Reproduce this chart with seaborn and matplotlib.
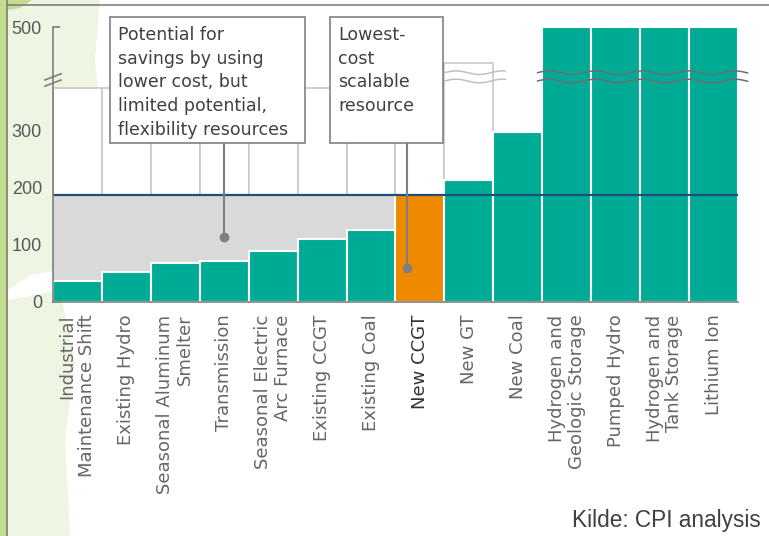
import numpy as np
import matplotlib
matplotlib.use("Agg")
import matplotlib.pyplot as plt
import matplotlib.patches as mpatches
import matplotlib.transforms as mtransforms
import seaborn as sns

sns.set_theme(style="white")
plt.rcParams['font.family'] = ['DejaVu Sans']

# data
categories = ["Industrial\nMaintenance Shift", "Existing Hydro", "Seasonal Aluminum\nSmelter",
              "Transmission", "Seasonal Electric\nArc Furnace", "Existing CCGT", "Existing Coal",
              "New CCGT", "New GT", "New Coal", "Hydrogen and\nGeologic Storage", "Pumped Hydro",
              "Hydrogen and\nTank Storage", "Lithium Ion"]
costs = [37, 52, 68, 72, 90, 110, 126, 188, 214, 298, 500, 500, 500, 500]
range_tops = [383, 383, 383, 383, 383, 383, 383, 383, 431]
threshold = 188
limited_count = 8          # bars under the grey "savings" band
highlight = "New CCGT"
broken = ["Hydrogen and\nGeologic Storage", "Pumped Hydro", "Hydrogen and\nTank Storage", "Lithium Ion"]
yticks = [0, 100, 200, 300, 500]

TEAL = "#00ab96"
ORANGE = "#ef8a00"
GREY_TXT = "#666666"

# broken axis: everything above 300 is squeezed a little
def fwd(v):
    v = np.asarray(v, dtype=float)
    return np.where(v <= 300, v, 300 + (v - 300) * 0.91)

def inv(d):
    d = np.asarray(d, dtype=float)
    return np.where(d <= 300, d, 300 + (d - 300) / 0.91)

fig = plt.figure(figsize=(7.69, 5.36), dpi=100)

# slide decorations on the left edge
W, H = 769, 536
def px(pts):
    return [(x / W, 1 - y / H) for x, y in pts]

pale = dict(closed=True, transform=fig.transFigure, facecolor="#eef5e3", edgecolor="none", zorder=-5)
fig.patches.append(mpatches.Polygon(px([(8, 0), (100, 0), (95, 60), (105, 150), (95, 230), (60, 270),
                                         (30, 275), (8, 290)]), **pale))
fig.patches.append(mpatches.Polygon(px([(8, 300), (60, 290), (75, 360), (65, 440), (70, 536), (8, 536)]),
                                    **pale))
fig.patches.append(mpatches.Polygon(px([(0, 0), (32, 0), (20, 8), (8, 10), (8, 536), (0, 536)]),
                                    closed=True, transform=fig.transFigure,
                                    facecolor="#c2de8c", edgecolor="none", zorder=-4))
fig.lines.append(plt.Line2D([7 / W, 7 / W], [0, 1], transform=fig.transFigure, color="#808080", lw=1.2,
                            zorder=-3))
fig.lines.append(plt.Line2D([7 / W, 1], [1 - 5 / H, 1 - 5 / H], transform=fig.transFigure,
                            color="#808080", lw=1.2, zorder=-3))

ax = fig.add_axes([53 / W, 1 - 302 / H, 685 / W, 275 / H])
ax.set_zorder(2)
ax.patch.set_alpha(0)

x = np.arange(len(categories))

palette = [ORANGE if c == highlight else TEAL for c in categories]
sns.barplot(x=categories, y=costs, hue=categories, palette=palette, saturation=1, width=1.0,
            edgecolor="white", linewidth=1.5, legend=False, ax=ax)
for p in ax.patches:
    p.set_zorder(3)

# white "range" columns behind the bars
ax.bar(x[:len(range_tops)], range_tops, width=1.0, color="white", edgecolor="#c8c8c8",
       linewidth=1.2, zorder=1)
# grey band: potential savings
ax.fill_between([-0.5, limited_count - 0.5], 0, threshold, color="#d9d9d9", zorder=2, lw=0)

ax.axhline(threshold, color="#1f4e79", lw=1.6, zorder=4)

ax.set_yscale("function", functions=(fwd, inv))
ax.set_ylim(0, 500)
ax.set_xlim(-0.5, len(categories) - 0.5)
ax.set_yticks(yticks)
ax.set_yticklabels([str(t) for t in yticks], family="Liberation Sans", fontsize=13, color="#595959")
ax.tick_params(axis="y", direction="in", length=5, width=1.2, color="#7f7f7f", left=True, pad=8)
ax.tick_params(axis="x", length=0, pad=9)

for s in ["top", "right"]:
    ax.spines[s].set_visible(False)
for s in ["left", "bottom"]:
    ax.spines[s].set_color("#7f7f7f")
    ax.spines[s].set_linewidth(1.2)
    ax.spines[s].set_zorder(6)

for lab in ax.get_xticklabels():
    lab.set_rotation(90)
    lab.set_va("top")
    lab.set_ha("center")
    lab.set_multialignment("right")
    lab.set_fontsize(13)
    lab.set_linespacing(1.12)
    if lab.get_text() == highlight:
        lab.set_color("#333333")
    else:
        lab.set_color(GREY_TXT)

# wavy break lines
def wave(x0, x1, y, color):
    xs = np.linspace(x0, x1, 200)
    ax.plot(xs, y + 3.5 * np.sin((xs - x0) * 2 * np.pi / 0.95), color=color, lw=1.1,
            zorder=5, clip_on=False)

ng = categories.index("New GT")
for yy in (396, 412):
    wave(ng - 0.5, ng + 0.75, yy, "#c0c0c0")
b0 = categories.index(broken[0])
for yy in (396, 412):
    wave(b0 - 0.6, len(categories) - 0.3, yy, "#6e6e6e")

# break marker on the y axis
trans = mtransforms.blended_transform_factory(ax.transAxes, ax.transData)
for yy in (392, 404):
    ax.plot([-0.012, 0.012], [yy - 6, yy + 6], transform=trans, color="#7f7f7f", lw=1.2,
            clip_on=False, zorder=6)

# call-out boxes
def callout(x0, x1, text, px_x, dot_y):
    ax.add_patch(mpatches.Rectangle((x0, 0.578), x1 - x0, 1.036 - 0.578, transform=ax.transAxes,
                                    facecolor="white", edgecolor="#808080", lw=1.2,
                                    clip_on=False, zorder=7))
    ax.text(x0 + 0.012, 1.003, text, transform=ax.transAxes, va="top", ha="left",
            fontsize=12.5, color="#404040", linespacing=1.4, zorder=8, clip_on=False)
    ax.plot([px_x, px_x], [dot_y, 279], color="#7f7f7f", lw=1.5, zorder=6)
    ax.plot([px_x], [dot_y], "o", color="#7f7f7f", ms=6, zorder=6)

callout(0.0832, 0.368, "Potential for\nsavings by using\nlower cost, but\nlimited potential,\nflexibility resources",
        3.0, 114)
callout(0.404, 0.569, "Lowest-\ncost\nscalable\nresource", 6.73, 60)

fig.text(572 / W, 1 - 521 / H, "Kilde: CPI analysis", family="Liberation Sans", fontsize=16.3,
         color="#404040", va="center", ha="left")

fig.savefig("out.png", dpi=100)
